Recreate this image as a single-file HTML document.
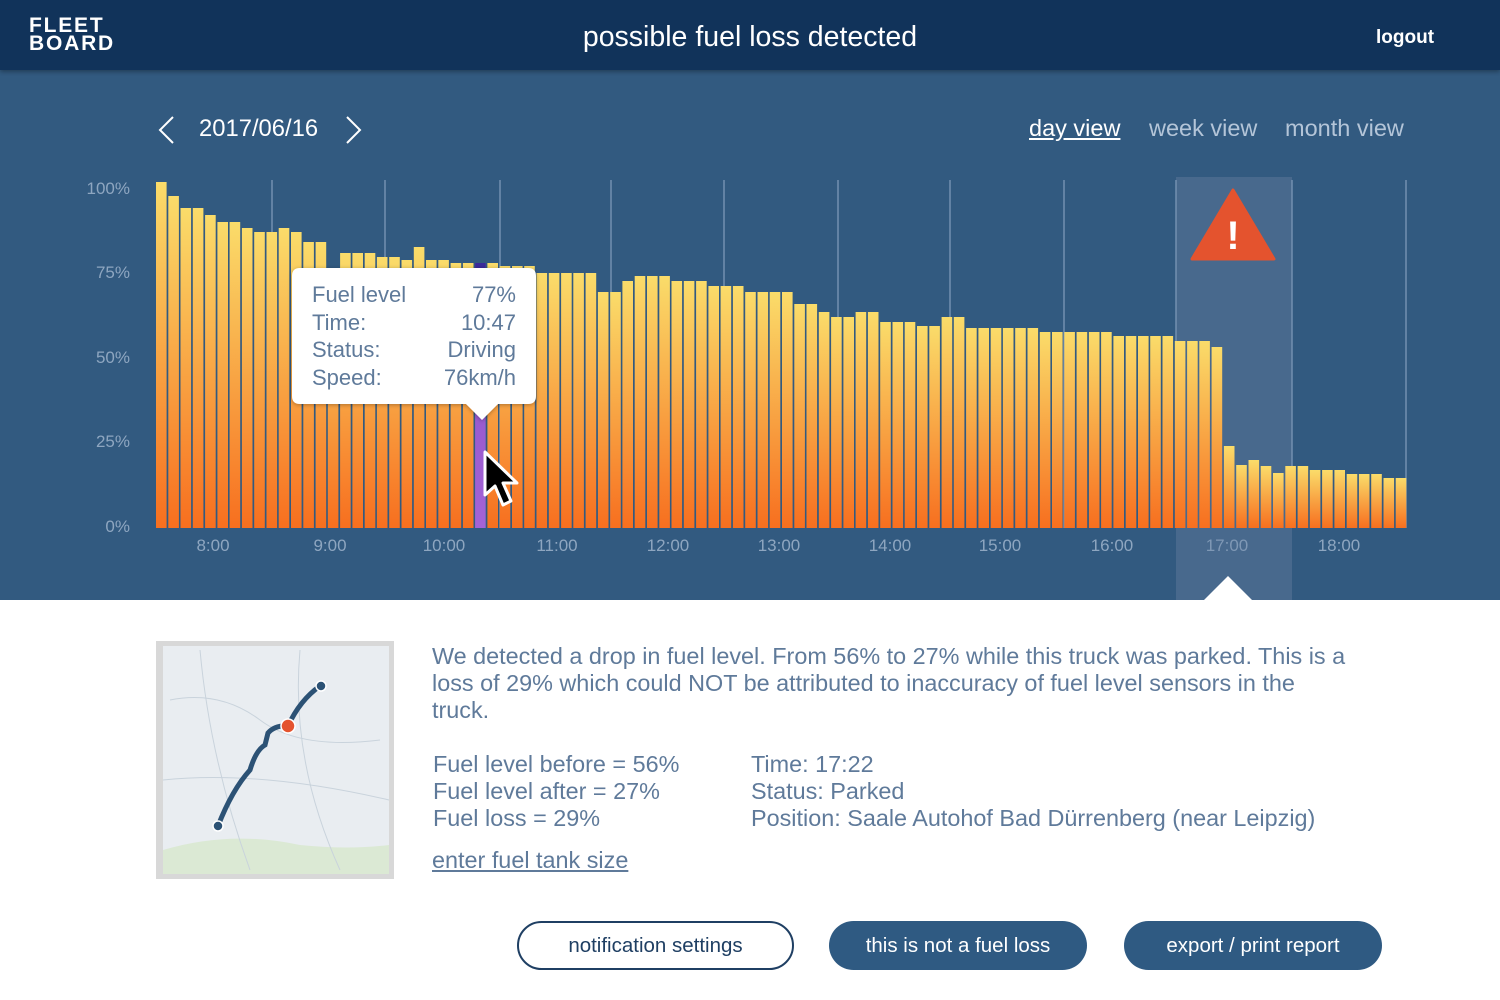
<!DOCTYPE html>
<html><head><meta charset="utf-8">
<style>
*{margin:0;padding:0;box-sizing:border-box}
body{width:1500px;height:1000px;overflow:hidden;font-family:"Liberation Sans",Arial,sans-serif;background:#fff;position:relative}
.hdr{position:absolute;left:0;top:0;width:1500px;height:70px;background:#11335a;box-shadow:0 2px 4px rgba(0,0,0,.3);z-index:2}
.logo{position:absolute;left:29px;top:17px;color:#fff;font-weight:bold;font-size:21px;line-height:18px;letter-spacing:1.8px}
.title{position:absolute;left:0;width:1500px;top:21px;text-align:center;color:#fff;font-size:28.5px}
.logout{position:absolute;left:1376px;top:27px;color:#fff;font-size:19px;font-weight:bold}
.main{position:absolute;left:0;top:70px;width:1500px;height:530px;background:#325a80}
.t{position:absolute;white-space:nowrap}
.txt{color:#5f7a9a;font-size:23.4px;line-height:27px}
.btn{position:absolute;top:921px;height:49px;border-radius:25px;font-size:20.5px;text-align:center;line-height:49px}
</style></head><body>
<div class="hdr">
<div class="logo">FLEET<br>BOARD</div>
<div class="title">possible fuel loss detected</div>
<div class="logout">logout</div>
</div>
<div class="main"></div>
<svg width="1500" height="1000" style="position:absolute;left:0;top:0">
<defs>
<linearGradient id="g" x1="0" y1="0" x2="0" y2="1">
<stop offset="0" stop-color="#fadc6a"/><stop offset="1" stop-color="#f76f1f"/></linearGradient>
<linearGradient id="gp" x1="0" y1="0" x2="0" y2="1"><stop offset="0" stop-color="#8a4fc4"/><stop offset="1" stop-color="#a463d6"/></linearGradient>
<filter id="sh" x="-10%" y="-10%" width="120%" height="130%"><feDropShadow dx="0" dy="1" stdDeviation="2" flood-opacity="0.3"/></filter>
</defs>
<rect x="1176" y="177" width="116" height="423" fill="#48698d"/>
<g stroke="#7290b0" stroke-width="1.5">
<line x1="272" x2="272" y1="180" y2="528"/><line x1="385" x2="385" y1="180" y2="528"/><line x1="500" x2="500" y1="180" y2="528"/><line x1="611" x2="611" y1="180" y2="528"/><line x1="724" x2="724" y1="180" y2="528"/><line x1="838" x2="838" y1="180" y2="528"/><line x1="950" x2="950" y1="180" y2="528"/><line x1="1064" x2="1064" y1="180" y2="528"/><line x1="1176" x2="1176" y1="180" y2="528"/><line x1="1292" x2="1292" y1="180" y2="528"/><line x1="1406" x2="1406" y1="180" y2="528"/>
</g>
<g fill="url(#g)">
<rect x="156.0" y="182" width="10.6" height="346"/>
<rect x="168.3" y="196" width="10.6" height="332"/>
<rect x="180.5" y="208" width="10.6" height="320"/>
<rect x="192.8" y="208" width="10.6" height="320"/>
<rect x="205.1" y="215" width="10.6" height="313"/>
<rect x="217.4" y="222" width="10.6" height="306"/>
<rect x="229.6" y="222" width="10.6" height="306"/>
<rect x="241.9" y="228" width="10.6" height="300"/>
<rect x="254.2" y="232" width="10.6" height="296"/>
<rect x="266.5" y="232" width="10.6" height="296"/>
<rect x="278.7" y="228" width="10.6" height="300"/>
<rect x="291.0" y="232" width="10.6" height="296"/>
<rect x="303.3" y="242" width="10.6" height="286"/>
<rect x="315.6" y="242" width="10.6" height="286"/>
<rect x="327.8" y="268" width="10.6" height="260"/>
<rect x="340.1" y="253" width="10.6" height="275"/>
<rect x="352.4" y="253" width="10.6" height="275"/>
<rect x="364.7" y="253" width="10.6" height="275"/>
<rect x="376.9" y="257" width="10.6" height="271"/>
<rect x="389.2" y="257" width="10.6" height="271"/>
<rect x="401.5" y="260" width="10.6" height="268"/>
<rect x="413.8" y="247" width="10.6" height="281"/>
<rect x="426.0" y="260" width="10.6" height="268"/>
<rect x="438.3" y="260" width="10.6" height="268"/>
<rect x="450.6" y="263" width="10.6" height="265"/>
<rect x="462.9" y="263" width="10.6" height="265"/>
<rect x="487.4" y="263" width="10.6" height="265"/>
<rect x="499.7" y="266" width="10.6" height="262"/>
<rect x="512.0" y="266" width="10.6" height="262"/>
<rect x="524.2" y="266" width="10.6" height="262"/>
<rect x="536.5" y="273" width="10.6" height="255"/>
<rect x="548.8" y="273" width="10.6" height="255"/>
<rect x="561.1" y="273" width="10.6" height="255"/>
<rect x="573.3" y="273" width="10.6" height="255"/>
<rect x="585.6" y="273" width="10.6" height="255"/>
<rect x="597.9" y="292" width="10.6" height="236"/>
<rect x="610.2" y="292" width="10.6" height="236"/>
<rect x="622.4" y="281" width="10.6" height="247"/>
<rect x="634.7" y="276" width="10.6" height="252"/>
<rect x="647.0" y="276" width="10.6" height="252"/>
<rect x="659.3" y="276" width="10.6" height="252"/>
<rect x="671.5" y="281" width="10.6" height="247"/>
<rect x="683.8" y="281" width="10.6" height="247"/>
<rect x="696.1" y="281" width="10.6" height="247"/>
<rect x="708.4" y="286" width="10.6" height="242"/>
<rect x="720.6" y="286" width="10.6" height="242"/>
<rect x="732.9" y="286" width="10.6" height="242"/>
<rect x="745.2" y="292" width="10.6" height="236"/>
<rect x="757.5" y="292" width="10.6" height="236"/>
<rect x="769.7" y="292" width="10.6" height="236"/>
<rect x="782.0" y="292" width="10.6" height="236"/>
<rect x="794.3" y="304" width="10.6" height="224"/>
<rect x="806.5" y="304" width="10.6" height="224"/>
<rect x="818.8" y="312" width="10.6" height="216"/>
<rect x="831.1" y="317" width="10.6" height="211"/>
<rect x="843.4" y="317" width="10.6" height="211"/>
<rect x="855.6" y="312" width="10.6" height="216"/>
<rect x="867.9" y="312" width="10.6" height="216"/>
<rect x="880.2" y="322" width="10.6" height="206"/>
<rect x="892.5" y="322" width="10.6" height="206"/>
<rect x="904.7" y="322" width="10.6" height="206"/>
<rect x="917.0" y="326" width="10.6" height="202"/>
<rect x="929.3" y="326" width="10.6" height="202"/>
<rect x="941.6" y="317" width="10.6" height="211"/>
<rect x="953.8" y="317" width="10.6" height="211"/>
<rect x="966.1" y="328" width="10.6" height="200"/>
<rect x="978.4" y="328" width="10.6" height="200"/>
<rect x="990.7" y="328" width="10.6" height="200"/>
<rect x="1002.9" y="328" width="10.6" height="200"/>
<rect x="1015.2" y="328" width="10.6" height="200"/>
<rect x="1027.5" y="328" width="10.6" height="200"/>
<rect x="1039.8" y="332" width="10.6" height="196"/>
<rect x="1052.0" y="332" width="10.6" height="196"/>
<rect x="1064.3" y="332" width="10.6" height="196"/>
<rect x="1076.6" y="332" width="10.6" height="196"/>
<rect x="1088.9" y="332" width="10.6" height="196"/>
<rect x="1101.1" y="332" width="10.6" height="196"/>
<rect x="1113.4" y="336" width="10.6" height="192"/>
<rect x="1125.7" y="336" width="10.6" height="192"/>
<rect x="1138.0" y="336" width="10.6" height="192"/>
<rect x="1150.2" y="336" width="10.6" height="192"/>
<rect x="1162.5" y="336" width="10.6" height="192"/>
<rect x="1174.8" y="341" width="10.6" height="187"/>
<rect x="1187.1" y="341" width="10.6" height="187"/>
<rect x="1199.3" y="341" width="10.6" height="187"/>
<rect x="1211.6" y="347" width="10.6" height="181"/>
<rect x="1223.9" y="446" width="10.6" height="82"/>
<rect x="1236.2" y="465" width="10.6" height="63"/>
<rect x="1248.5" y="460" width="10.6" height="68"/>
<rect x="1260.7" y="466" width="10.6" height="62"/>
<rect x="1273.0" y="473" width="10.6" height="55"/>
<rect x="1285.3" y="466" width="10.6" height="62"/>
<rect x="1297.6" y="466" width="10.6" height="62"/>
<rect x="1309.8" y="470" width="10.6" height="58"/>
<rect x="1322.1" y="470" width="10.6" height="58"/>
<rect x="1334.4" y="470" width="10.6" height="58"/>
<rect x="1346.7" y="474" width="10.6" height="54"/>
<rect x="1358.9" y="474" width="10.6" height="54"/>
<rect x="1371.2" y="474" width="10.6" height="54"/>
<rect x="1383.5" y="478" width="10.6" height="50"/>
<rect x="1395.7" y="478" width="10.6" height="50"/>
</g>
<rect x="475.1" y="263" width="10.6" height="265" fill="url(#gp)"/>
<rect x="475.1" y="263" width="10.6" height="5" fill="#3a2a9a"/>
<path d="M1204 600 L1228 576 L1252 600 Z" fill="#fff"/>
<path d="M1233 190 L1274 259 L1192 259 Z" fill="#e4532e" stroke="#e4532e" stroke-width="3" stroke-linejoin="round"/>
<text x="1233" y="249" fill="#fff" font-size="40" font-weight="bold" text-anchor="middle" font-family="Liberation Sans">!</text>
<g font-family="Liberation Sans" font-size="17" fill="#8ea6c0" text-anchor="end">
<text x="130" y="194">100%</text><text x="130" y="278">75%</text><text x="130" y="363">50%</text><text x="130" y="447">25%</text><text x="130" y="532">0%</text>
</g>
<g font-family="Liberation Sans" font-size="17" fill="#8ea6c0" text-anchor="middle">
<text x="213" y="551">8:00</text><text x="330" y="551">9:00</text><text x="444" y="551">10:00</text><text x="557" y="551">11:00</text><text x="668" y="551">12:00</text><text x="779" y="551">13:00</text><text x="890" y="551">14:00</text><text x="1000" y="551">15:00</text><text x="1112" y="551">16:00</text><text x="1227" y="551" fill="#7f98b5">17:00</text><text x="1339" y="551">18:00</text>
</g>
<path filter="url(#sh)" d="M300 268 H528 Q536 268 536 276 V396 Q536 404 528 404 H498 L482 420 L466 404 H300 Q292 404 292 396 V276 Q292 268 300 268Z" fill="#fff"/>
<g font-family="Liberation Sans" font-size="22" fill="#5f7a9a">
<text x="312" y="302">Fuel level</text><text x="312" y="330">Time:</text><text x="312" y="357">Status:</text><text x="312" y="385">Speed:</text>
<text x="516" y="302" text-anchor="end">77%</text><text x="516" y="330" text-anchor="end">10:47</text><text x="516" y="357" text-anchor="end">Driving</text><text x="516" y="385" text-anchor="end">76km/h</text>
</g>
<path d="M485 452 L485 495 L495 486 L503 505 L511 501 L503 483 L517 483 Z" fill="#000" stroke="#fff" stroke-width="3" stroke-linejoin="round"/>
<g stroke="#fff" stroke-width="2" fill="none"><path d="M173 117 L160 130 L173 143"/><path d="M347 117 L360 130 L347 143"/></g>
<rect x="156" y="641" width="238" height="238" fill="#d8d8d8"/>
<rect x="163" y="646" width="226" height="228" fill="#e9edf1"/>
<path d="M163 850 Q230 830 300 845 Q350 850 389 845 V874 H163Z" fill="#dbe9d4"/>
<g stroke="#c9d3dc" stroke-width="1" fill="none"><path d="M170 700 Q220 690 260 720 T380 740"/><path d="M200 650 Q210 760 250 870"/><path d="M300 650 Q290 760 340 870"/><path d="M163 780 Q260 770 389 800"/></g>
<path d="M218 826 Q232 790 250 770 Q256 750 265 745 L268 733 Q275 725 288 726 Q300 700 320 686" stroke="#2c5275" stroke-width="5" fill="none" stroke-linecap="round"/>
<circle cx="218" cy="826" r="5" fill="#2c5275" stroke="#fff" stroke-width="1.5"/>
<circle cx="321" cy="686" r="5" fill="#2c5275" stroke="#fff" stroke-width="1.5"/>
<circle cx="288" cy="726" r="7" fill="#e4532e" stroke="#fff" stroke-width="1.5"/>
</svg>
<div class="t" style="left:199px;top:115px;color:#fff;font-size:23.8px">2017/06/16</div>
<div class="t" style="left:1029px;top:115px;color:#fff;font-size:23.5px;text-decoration:underline">day view</div>
<div class="t" style="left:1149px;top:115px;color:#b4c5d8;font-size:23.5px">week view</div>
<div class="t" style="left:1285px;top:115px;color:#b4c5d8;font-size:23.5px">month view</div>
<div class="t txt" style="left:432px;top:643px">We detected a drop in fuel level. From 56% to 27% while this truck was parked. This is a<br>loss of 29% which could NOT be attributed to inaccuracy of fuel level sensors in the<br>truck.</div>
<div class="t txt" style="left:433px;top:751px">Fuel level before = 56%<br>Fuel level after = 27%<br>Fuel loss = 29%</div>
<div class="t txt" style="left:751px;top:751px">Time: 17:22<br>Status: Parked<br>Position: Saale Autohof Bad Dürrenberg (near Leipzig)</div>
<div class="t txt" style="left:432px;top:847px;text-decoration:underline">enter fuel tank size</div>
<div class="btn" style="left:517px;width:277px;border:2px solid #1f3f63;color:#1f3f63;line-height:45px">notification settings</div>
<div class="btn" style="left:829px;width:258px;background:#2f5a82;color:#fff">this is not a fuel loss</div>
<div class="btn" style="left:1124px;width:258px;background:#2f5a82;color:#fff">export / print report</div>
</body></html>
